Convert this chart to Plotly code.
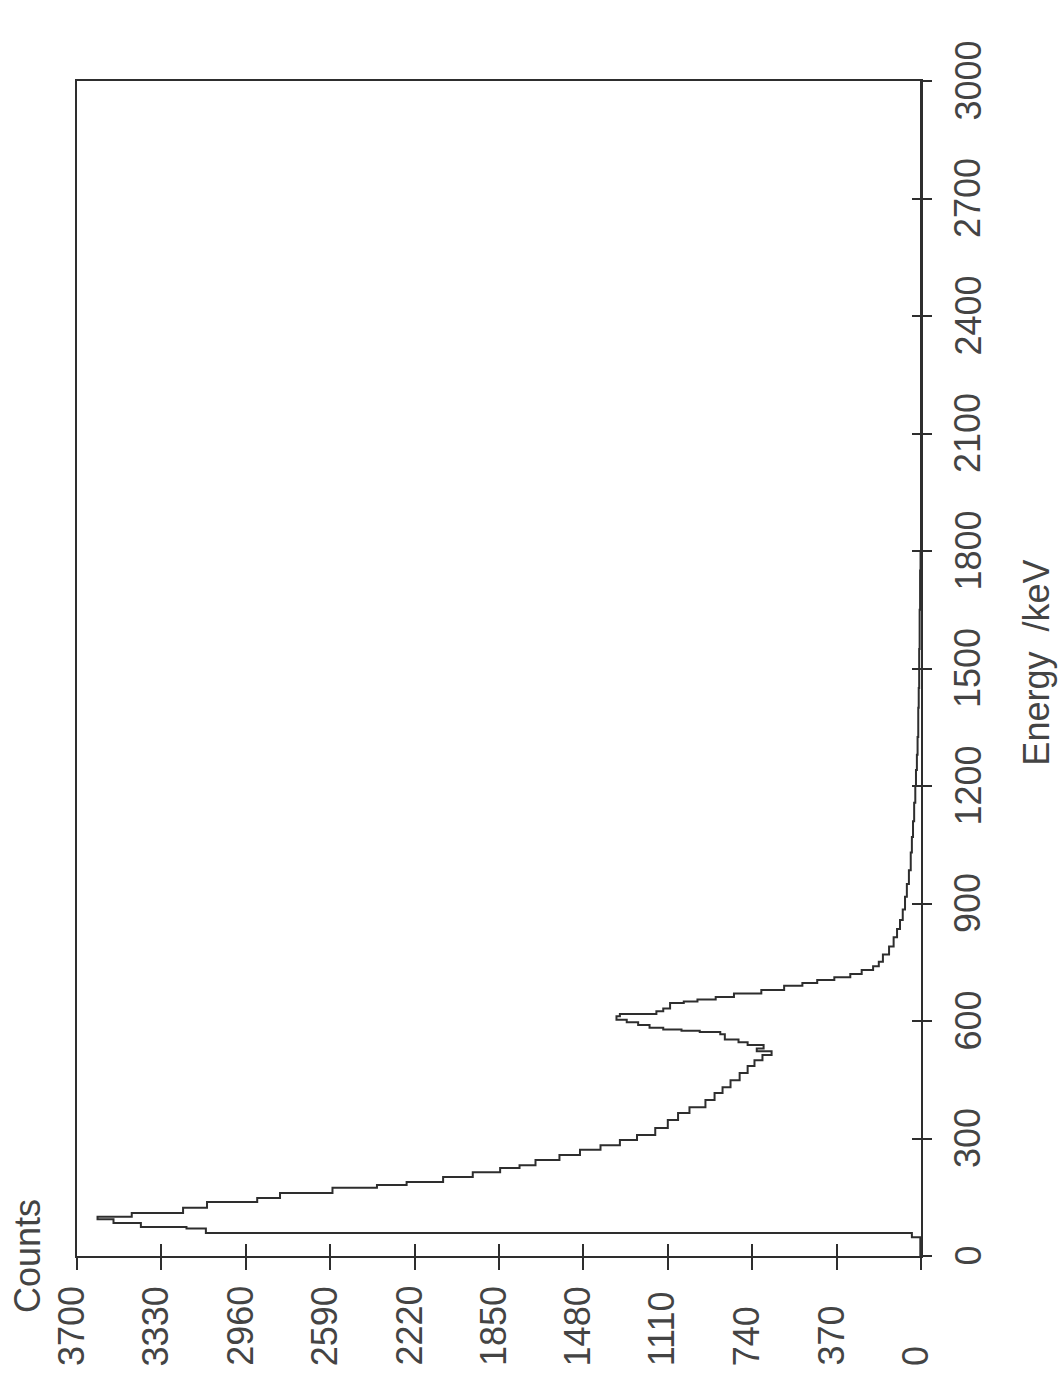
import plotly.graph_objects as go

# Gamma spectrum: lower bin edge (keV) and counts in that bin
energy_kev = [0, 48, 59, 70, 74, 84, 94, 100, 110, 123,
              138, 148, 161, 174, 181, 189, 202, 214, 225, 232,
              245, 258, 271, 283, 296, 309, 327, 347, 365, 380,
              398, 416, 431, 449, 467, 485, 500, 513, 523, 530,
              539, 546, 553, 566, 572, 575, 578, 583, 590, 597,
              603, 612, 618, 625, 632, 646, 650, 655, 661, 670,
              679, 690, 697, 705, 712, 720, 730, 740, 751, 770,
              790, 814, 835, 858, 885, 917, 950, 985, 1030, 1070,
              1110, 1157, 1200, 1241, 1280, 1325, 1400, 1450, 1550, 1650,
              1750, 1800, 3000]
counts = [3, 40, 3135, 3220, 3420, 3540, 3610, 3460, 3235, 3130,
          2910, 2810, 2580, 2385, 2255, 2095, 1965, 1845, 1760, 1690,
          1585, 1495, 1405, 1320, 1245, 1165, 1110, 1065, 1015, 945,
          905, 870, 835, 795, 760, 730, 695, 655, 720, 690,
          760, 800, 860, 880, 970, 1050, 1130, 1190, 1240, 1290,
          1335, 1320, 1160, 1130, 1100, 1040, 980, 900, 820, 700,
          600, 520, 455, 380, 310, 260, 210, 185, 167, 140,
          120, 105, 92, 80, 70, 62, 53, 45, 40, 35,
          30, 25, 22, 18, 15, 12, 10, 8, 6, 4,
          2, 0, 0]

count_ticks = [0, 370, 740, 1110, 1480, 1850, 2220, 2590, 2960, 3330, 3700]
energy_ticks = [0, 300, 600, 900, 1200, 1500, 1800, 2100, 2400, 2700, 3000]

INK = "#2e2e2e"
TEXT = "#444444"
FONT = "Liberation Sans, Arial, sans-serif"
FSIZE = 36

fig = go.Figure()

# The page is drawn turned on its side: counts run right-to-left along
# the bottom, energy runs upward along the right-hand axis.
fig.add_trace(go.Scatter(
    x=counts, y=energy_kev, mode="lines",
    line=dict(color=INK, width=2, shape="vh"),
    hoverinfo="skip", showlegend=False,
))
# companion trace on the overlay axes that carry the inner tick halves
fig.add_trace(go.Scatter(
    x=[None], y=[None], xaxis="x2", yaxis="y2",
    mode="lines", hoverinfo="skip", showlegend=False,
))

axis_common = dict(
    showgrid=False, zeroline=False, showticklabels=False,
    tickmode="array", tickwidth=2, tickcolor=INK,
)

fig.update_layout(
    width=1064, height=1378,
    margin=dict(l=77, r=143, t=81, b=122),
    paper_bgcolor="white", plot_bgcolor="white",
    font=dict(family=FONT, size=FSIZE, color=TEXT),
    xaxis=dict(range=[3700, 0], side="bottom", anchor="y",
               showline=True, linecolor=INK, linewidth=2, mirror=True,
               tickvals=count_ticks, ticks="outside", ticklen=12,
               **axis_common),
    yaxis=dict(range=[0, 3000], side="right", anchor="x",
               showline=True, linecolor=INK, linewidth=2, mirror=True,
               tickvals=energy_ticks, ticks="outside", ticklen=9,
               **axis_common),
    xaxis2=dict(range=[3700, 0], overlaying="x", side="bottom", anchor="y2",
                showline=False, tickvals=count_ticks, ticks="inside",
                ticklen=12, **axis_common),
    yaxis2=dict(range=[0, 3000], overlaying="y", side="right", anchor="x2",
                showline=False, tickvals=energy_ticks, ticks="inside",
                ticklen=9, **axis_common),
)

annotations = []
# count labels, read upward, all starting from a common line below the axis
for v in count_ticks:
    annotations.append(dict(
        x=v, xref="x", y=0, yref="paper", yanchor="bottom", xanchor="center",
        yshift=-112, xshift=-6, text=str(v), textangle=-90, showarrow=False,
        font=dict(family=FONT, size=FSIZE, color=TEXT),
    ))
# energy labels beside the right axis
for v in energy_ticks:
    annotations.append(dict(
        x=1, xref="paper", y=v, yref="y", xanchor="left", yanchor="middle",
        xshift=24, text=str(v), textangle=-90, showarrow=False,
        font=dict(family=FONT, size=FSIZE, color=TEXT),
    ))
annotations.append(dict(
    x=0, xref="paper", y=0, yref="paper", xanchor="center", yanchor="middle",
    xshift=-50, text="Counts", textangle=-90, showarrow=False,
    font=dict(family=FONT, size=FSIZE, color=TEXT),
))
annotations.append(dict(
    x=1, xref="paper", y=0.505, yref="paper", xanchor="center", yanchor="middle",
    xshift=116, text="Energy\u00a0\u00a0/keV", textangle=-90, showarrow=False,
    font=dict(family=FONT, size=FSIZE, color=TEXT),
))
fig.update_layout(annotations=annotations)

fig.write_html("out.html")
